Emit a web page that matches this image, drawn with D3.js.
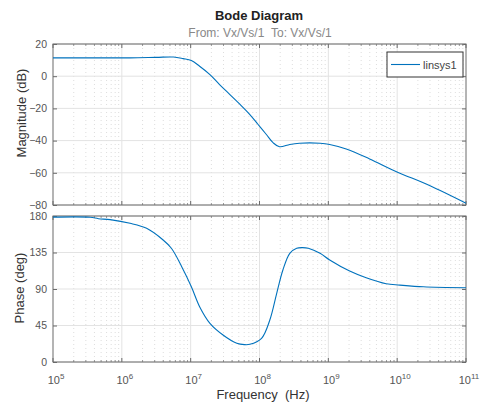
<!DOCTYPE html>
<html><head><meta charset="utf-8">
<script src="https://cdn.jsdelivr.net/npm/d3@7"></script>
<style>body{margin:0;background:#fff}svg{display:block;font-family:"Liberation Sans",Arial,sans-serif}</style>
</head><body><svg id="c" width="482" height="403"></svg>
<script>
// Data (frequency as log10(Hz))
const magLogF = [5.0, 5.6, 6.12, 6.5, 6.75, 6.89, 7.01, 7.13, 7.28, 7.42, 7.57, 7.71, 7.86, 7.98, 8.10, 8.20, 8.29, 8.44, 8.58, 8.73, 8.88, 9.02, 9.26, 9.60, 9.99, 10.47, 11.0];
const magDb   = [11.4, 11.4, 11.4, 11.7, 11.9, 10.9, 9.7, 6.2, 1.0, -5.2, -11.4, -17.2, -23.8, -30.0, -36.2, -41.4, -43.8, -42.4, -41.6, -41.4, -41.6, -42.4, -45.2, -51.4, -59.3, -67.9, -78.9];
const phLogF  = [5.0, 5.54, 5.66, 5.83, 6.12, 6.36, 6.60, 6.72, 6.87, 7.01, 7.13, 7.28, 7.47, 7.67, 7.78, 7.86, 8.03, 8.15, 8.25, 8.34, 8.44, 8.54, 8.62, 8.71, 8.88, 9.02, 9.31, 9.55, 9.84, 10.04, 10.38, 11.0];
const phDeg   = [178.6, 178.4, 176.7, 175.5, 171, 164.8, 150.4, 140.2, 117.5, 92.8, 68.2, 47.7, 33.3, 23.1, 21.4, 21.8, 29.2, 51.8, 84.7, 113.4, 134.0, 140.2, 141.0, 140.2, 134.0, 125.8, 112.1, 103.8, 96.4, 94.8, 92.7, 91.5];
const magTicks = [20, 0, -20, -40, -60, -80];
const phTicks = [180, 135, 90, 45, 0];
const xExps = [5, 6, 7, 8, 9, 10, 11];
const seriesName = "linsys1";

const svg = d3.select("#c");
const L = 53, R = 466;
const x = d3.scaleLog().domain([1e5, 1e11]).range([L, R]);
const yM = d3.scaleLinear().domain([-80, 20]).range([205, 44]);
const yP = d3.scaleLinear().domain([0, 180]).range([362, 216]);
const axisCol = "#6b6b6b", gridCol = "#e3e3e3", textCol = "#555";

const minor = [];
for (let e = 5; e < 11; e++) for (let k = 2; k <= 9; k++) minor.push(k * Math.pow(10, e));
const majors = xExps.map(e => Math.pow(10, e));

function panel(y, ticks) {
  const [y0, y1] = y.range();
  const g = svg.append("g");
  g.selectAll(".mg").data(minor).join("line")
    .attr("x1", d => x(d)).attr("x2", d => x(d)).attr("y1", y1).attr("y2", y0)
    .attr("stroke", "#d4d4d4").attr("stroke-width", 0.8).attr("stroke-dasharray", "1,3");
  g.selectAll(".Mg").data(majors.slice(1, -1)).join("line")
    .attr("x1", d => x(d)).attr("x2", d => x(d)).attr("y1", y1).attr("y2", y0)
    .attr("stroke", gridCol);
  g.selectAll(".hg").data(ticks).join("line")
    .attr("x1", L).attr("x2", R).attr("y1", d => y(d)).attr("y2", d => y(d))
    .attr("stroke", gridCol);
  const ax = d3.axisLeft(y).tickValues(ticks).tickSize(-4).tickPadding(6).tickFormat(d3.format("d"));
  const ag = g.append("g").attr("transform", `translate(${L},0)`).call(ax);
  ag.select(".domain").remove();
  ag.selectAll("line").attr("stroke", axisCol);
  ag.selectAll("text").attr("fill", textCol).attr("font-size", 10.5).attr("font-family", "Liberation Sans, Arial");
  const ar = d3.axisRight(y).tickValues(ticks).tickSize(-4).tickFormat("");
  const arg = g.append("g").attr("transform", `translate(${R},0)`).call(ar);
  arg.select(".domain").remove();
  arg.selectAll("line").attr("stroke", axisCol);
  [y0, y1].forEach((yy, i) => {
    const dir = i === 0 ? -1 : 1;
    g.selectAll(null).data(majors).join("line")
      .attr("x1", d => x(d)).attr("x2", d => x(d)).attr("y1", yy).attr("y2", yy + dir * 4).attr("stroke", axisCol);
    g.selectAll(null).data(minor).join("line")
      .attr("x1", d => x(d)).attr("x2", d => x(d)).attr("y1", yy).attr("y2", yy + dir * 2).attr("stroke", "#999");
  });
  g.append("rect").attr("x", L).attr("y", y1).attr("width", R - L).attr("height", y0 - y1)
    .attr("fill", "none").attr("stroke", axisCol).attr("stroke-width", 1);
  return g;
}

const gM = panel(yM, magTicks);
const gP = panel(yP, phTicks);

const curve = d3.curveCatmullRom.alpha(0.5);
const lineM = d3.line().x((d, i) => x(Math.pow(10, magLogF[i]))).y(d => yM(d)).curve(curve);
const lineP = d3.line().x((d, i) => x(Math.pow(10, phLogF[i]))).y(d => yP(d)).curve(curve);
gM.append("path").attr("d", lineM(magDb)).attr("fill", "none").attr("stroke", "#0072BD").attr("stroke-width", 1.1);
gP.append("path").attr("d", lineP(phDeg)).attr("fill", "none").attr("stroke", "#0072BD").attr("stroke-width", 1.1);

const xl = svg.append("g");
xExps.forEach(e => {
  const t = xl.append("text").attr("x", x(Math.pow(10, e)) + 3).attr("y", 384)
    .attr("text-anchor", "middle").attr("font-size", 11).attr("fill", textCol);
  t.append("tspan").text("10");
  t.append("tspan").attr("dy", -5).attr("font-size", 8).text(e);
});

svg.append("rect").attr("x", 387).attr("y", 52).attr("width", 76).attr("height", 25)
  .attr("fill", "#fff").attr("stroke", "#333").attr("stroke-width", 1);
svg.append("line").attr("x1", 391).attr("x2", 420).attr("y1", 64.5).attr("y2", 64.5)
  .attr("stroke", "#0072BD").attr("stroke-width", 1.1);
svg.append("text").attr("x", 423).attr("y", 68.5).attr("font-size", 11).attr("fill", "#444").text(seriesName);

svg.append("text").attr("x", 259).attr("y", 20).attr("text-anchor", "middle")
  .attr("font-weight", "bold").attr("font-size", 13).attr("fill", "#222").text("Bode Diagram");
svg.append("text").attr("x", 260).attr("y", 36.5).attr("text-anchor", "middle")
  .attr("font-size", 12).attr("fill", "#888").text("From: Vx/Vs/1\u00a0\u00a0To: Vx/Vs/1");
svg.append("text").attr("x", 263).attr("y", 399).attr("text-anchor", "middle")
  .attr("font-size", 13).attr("fill", "#333").text("Frequency\u00a0\u00a0(Hz)");
svg.append("text").attr("transform", "translate(26,113) rotate(-90)").attr("text-anchor", "middle")
  .attr("font-size", 13).attr("fill", "#333").text("Magnitude (dB)");
svg.append("text").attr("transform", "translate(24,288) rotate(-90)").attr("text-anchor", "middle")
  .attr("font-size", 13).attr("fill", "#333").text("Phase (deg)");
</script></body></html>
